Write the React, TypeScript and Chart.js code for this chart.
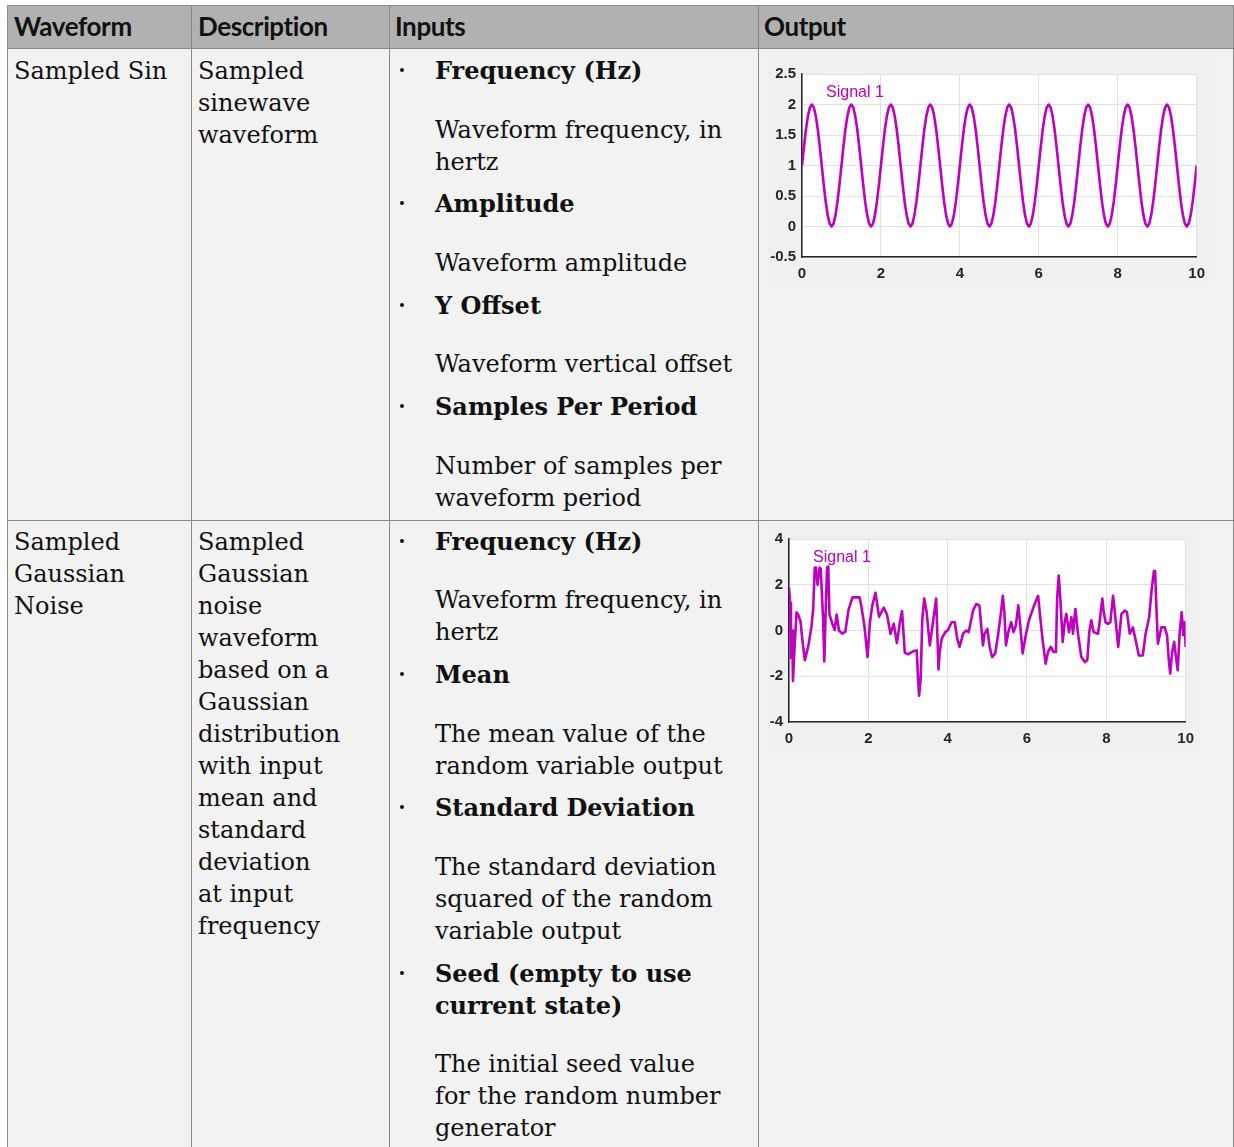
import React, { useEffect, useRef } from "react";
import { Chart, registerables } from "chart.js";

Chart.register(...registerables);

// ---------- chart data ----------
const SINE_SAMPLE_TIME = 0.05; // seconds between samples (20 samples per period)
const sineValues = [
  1, 1.31, 1.59, 1.81, 1.95, 2, 1.95, 1.81, 1.59, 1.31, 1, 0.69, 0.41, 0.19, 0.05, 0, 0.05, 0.19, 0.41, 0.69,
  1, 1.31, 1.59, 1.81, 1.95, 2, 1.95, 1.81, 1.59, 1.31, 1, 0.69, 0.41, 0.19, 0.05, 0, 0.05, 0.19, 0.41, 0.69,
  1, 1.31, 1.59, 1.81, 1.95, 2, 1.95, 1.81, 1.59, 1.31, 1, 0.69, 0.41, 0.19, 0.05, 0, 0.05, 0.19, 0.41, 0.69,
  1, 1.31, 1.59, 1.81, 1.95, 2, 1.95, 1.81, 1.59, 1.31, 1, 0.69, 0.41, 0.19, 0.05, 0, 0.05, 0.19, 0.41, 0.69,
  1, 1.31, 1.59, 1.81, 1.95, 2, 1.95, 1.81, 1.59, 1.31, 1, 0.69, 0.41, 0.19, 0.05, 0, 0.05, 0.19, 0.41, 0.69,
  1, 1.31, 1.59, 1.81, 1.95, 2, 1.95, 1.81, 1.59, 1.31, 1, 0.69, 0.41, 0.19, 0.05, 0, 0.05, 0.19, 0.41, 0.69,
  1, 1.31, 1.59, 1.81, 1.95, 2, 1.95, 1.81, 1.59, 1.31, 1, 0.69, 0.41, 0.19, 0.05, 0, 0.05, 0.19, 0.41, 0.69,
  1, 1.31, 1.59, 1.81, 1.95, 2, 1.95, 1.81, 1.59, 1.31, 1, 0.69, 0.41, 0.19, 0.05, 0, 0.05, 0.19, 0.41, 0.69,
  1, 1.31, 1.59, 1.81, 1.95, 2, 1.95, 1.81, 1.59, 1.31, 1, 0.69, 0.41, 0.19, 0.05, 0, 0.05, 0.19, 0.41, 0.69,
  1, 1.31, 1.59, 1.81, 1.95, 2, 1.95, 1.81, 1.59, 1.31, 1, 0.69, 0.41, 0.19, 0.05, 0, 0.05, 0.19, 0.41, 0.69,
  1,
];

const noiseTimes = [
  0, 0.03, 0.05, 0.08, 0.1, 0.13, 0.19, 0.23, 0.29, 0.34, 0.4, 0.49, 0.57, 0.61, 0.65, 0.68, 0.72, 0.77, 0.8,
  0.86, 0.89, 0.93, 0.96, 0.99, 1.02, 1.1, 1.15, 1.2, 1.26, 1.34, 1.42, 1.5, 1.6, 1.78, 1.82, 1.9, 1.98,
  2.04, 2.1, 2.18, 2.27, 2.39, 2.47, 2.56, 2.64, 2.72, 2.8, 2.85, 2.92, 3.0, 3.14, 3.22, 3.26, 3.28, 3.32,
  3.36, 3.41, 3.47, 3.55, 3.64, 3.71, 3.77, 3.8, 3.85, 3.94, 4.0, 4.1, 4.18, 4.24, 4.3, 4.39, 4.47, 4.53,
  4.64, 4.72, 4.8, 4.89, 4.93, 5.0, 5.06, 5.12, 5.2, 5.27, 5.35, 5.39, 5.43, 5.47, 5.53, 5.6, 5.66, 5.72,
  5.78, 5.83, 5.89, 5.97, 6.05, 6.18, 6.28, 6.33, 6.39, 6.47, 6.53, 6.6, 6.67, 6.73, 6.76, 6.8, 6.84, 6.9,
  6.95, 6.99, 7.06, 7.12, 7.16, 7.22, 7.29, 7.37, 7.46, 7.52, 7.57, 7.62, 7.68, 7.79, 7.83, 7.9, 7.93, 7.98,
  8.04, 8.1, 8.17, 8.21, 8.3, 8.38, 8.46, 8.52, 8.59, 8.67, 8.74, 8.82, 8.92, 8.99, 9.08, 9.14, 9.2, 9.23,
  9.26, 9.3, 9.39, 9.47, 9.53, 9.58, 9.61, 9.66, 9.71, 9.75, 9.8, 9.85, 9.9, 9.94, 9.97, 10.0,
];
const noiseValues = [
  1.88, 1.2, -1.2, 0.0, -2.2, -1.1, 0.8, 0.7, 0.4, -0.46, -1.3, -0.65, 0.22, 0.94, 2.75, 2.75, 2.0, 2.75, 2.7,
  0.5, -1.35, 1.2, 2.75, 2.8, 0.7, 0.26, 0.03, 0.7, 0.0, -0.14, -0.05, 0.9, 1.45, 1.45, 1.1, 0.22, -1.16,
  0.35, 1.1, 1.65, 0.6, 1.0, 0.7, -0.15, 0.3, -0.55, 0.4, 0.85, -0.97, -1.04, -0.9, -0.87, -2.3, -2.85, -2.1,
  0.5, 1.4, 0.8, -0.65, 0.5, 1.4, -1.7, -0.93, -0.36, -0.07, 0.0, 0.36, 0.36, -0.36, -0.72, -0.14, 0.0, -0.07,
  0.87, 1.16, 1.1, -0.65, -0.14, 0.07, -0.72, -1.16, -1.0, -0.2, 0.87, 1.52, 0.8, -0.65, -0.07, 0.36, -0.07, 0.22,
  1.1, 0.22, -1.0, -0.2, 0.45, 1.1, 1.52, 0.65, -0.36, -1.45, -0.94, -0.72, -0.94, -0.94, 1.4, 2.4, 1.4, -0.5,
  0.36, 0.72, -0.07, 0.58, -0.14, 0.94, -0.2, -1.16, -1.38, -1.3, -0.07, 0.45, -0.07, -0.14, 0.36, 1.4, 0.87, 0.36,
  0.29, 0.36, 1.52, 0.87, -0.72, 0.72, 0.87, 0.8, -0.14, 0.14, -0.43, -1.09, -1.09, -0.14, 0.58, 1.74, 2.6, 2.6,
  1.1, -0.58, 0.14, 0.14, -0.2, -1.38, -1.88, -0.94, -0.5, -1.09, -1.74, -0.07, 0.8, -0.2, 0.36, -0.72,
];

const xTicks = [0, 2, 4, 6, 8, 10];
const sineYTicks = [-0.5, 0, 0.5, 1, 1.5, 2, 2.5];
const noiseYTicks = [-4, -2, 0, 2, 4];
const SERIES_LABEL = "Signal 1";

// ---------- table text ----------
const headers = ["Waveform", "Description", "Inputs", "Output"];
type Ln = [string, number, boolean?, boolean?]; // text, center y, bold, bullet

const row1Col1: Ln[] = [["Sampled Sin", 70]];
const row1Col2: Ln[] = [["Sampled", 70], ["sinewave", 102], ["waveform", 134]];
const row1Col3: Ln[] = [
  ["Frequency (Hz)", 70, true, true],
  ["Waveform frequency, in", 129],
  ["hertz", 161],
  ["Amplitude", 203, true, true],
  ["Waveform amplitude", 262],
  ["Y Offset", 305, true, true],
  ["Waveform vertical offset", 363],
  ["Samples Per Period", 406, true, true],
  ["Number of samples per", 465],
  ["waveform period", 497],
];
const row2Col1: Ln[] = [["Sampled", 541], ["Gaussian", 573], ["Noise", 605]];
const row2Col2: Ln[] = [
  ["Sampled", 541], ["Gaussian", 573], ["noise", 605], ["waveform", 637], ["based on a", 669],
  ["Gaussian", 701], ["distribution", 733], ["with input", 765], ["mean and", 797], ["standard", 829],
  ["deviation", 861], ["at input", 893], ["frequency", 925],
];
const row2Col3: Ln[] = [
  ["Frequency (Hz)", 541, true, true],
  ["Waveform frequency, in", 599],
  ["hertz", 631],
  ["Mean", 674, true, true],
  ["The mean value of the", 733],
  ["random variable output", 765],
  ["Standard Deviation", 807, true, true],
  ["The standard deviation", 866],
  ["squared of the random", 898],
  ["variable output", 930],
  ["Seed (empty to use", 973, true, true],
  ["current state)", 1005, true],
  ["The initial seed value", 1063],
  ["for the random number", 1095],
  ["generator", 1127],
];

const LINE_COLOR = "#bf00bf";
const TICK_FONT = { family: "'Liberation Sans', Arial, sans-serif", size: 15, weight: "bold" as const };

const plotBg = {
  id: "plotBg",
  beforeDraw(chart: any) {
    const { ctx, chartArea: a } = chart;
    ctx.save();
    ctx.fillStyle = "#ffffff";
    ctx.fillRect(a.left, a.top, a.right - a.left, a.bottom - a.top);
    ctx.restore();
  },
};

const seriesLabel = {
  id: "seriesLabel",
  afterDatasetsDraw(chart: any) {
    const { ctx, chartArea: a } = chart;
    ctx.save();
    ctx.font = "16px 'Liberation Sans', Arial, sans-serif";
    ctx.fillStyle = LINE_COLOR;
    ctx.textBaseline = "middle";
    ctx.fillText(chart.data.datasets[0].label, a.left + 24, a.top + 19);
    ctx.restore();
  },
};

type ChartProps = {
  left: number; top: number; width: number; height: number;
  points: { x: number; y: number }[];
  yTicks: number[];
  yAxisWidth: number; xAxisHeight: number; padTop: number; padRight: number;
};

function WaveChart(p: ChartProps) {
  const ref = useRef<HTMLCanvasElement | null>(null);
  useEffect(() => {
    if (!ref.current) return;
    const chart = new Chart(ref.current, {
      type: "line",
      data: {
        datasets: [
          {
            label: SERIES_LABEL,
            data: p.points,
            borderColor: LINE_COLOR,
            borderWidth: 2.6,
            borderJoinStyle: "round",
            pointRadius: 0,
            tension: 0,
            fill: false,
          },
        ],
      },
      options: {
        animation: false,
        responsive: false,
        devicePixelRatio: 1,
        layout: { padding: { top: p.padTop, right: p.padRight, left: 0, bottom: 0 } },
        plugins: { legend: { display: false }, tooltip: { enabled: false } },
        scales: {
          x: {
            type: "linear",
            min: xTicks[0],
            max: xTicks[xTicks.length - 1],
            afterBuildTicks: (s: any) => { s.ticks = xTicks.map((v) => ({ value: v })); },
            afterFit: (s: any) => { s.height = p.xAxisHeight; },
            grid: { color: "#e1e1e1", lineWidth: 1, drawTicks: false },
            border: { color: "#262626", width: 1.5 },
            ticks: { font: TICK_FONT, color: "#262626", padding: 8, maxRotation: 0, callback: (v: any) => String(v) },
          },
          y: {
            type: "linear",
            min: p.yTicks[0],
            max: p.yTicks[p.yTicks.length - 1],
            afterBuildTicks: (s: any) => { s.ticks = p.yTicks.map((v) => ({ value: v })); },
            afterFit: (s: any) => { s.width = p.yAxisWidth; },
            grid: { color: "#e1e1e1", lineWidth: 1, drawTicks: false },
            border: { color: "#262626", width: 1.5 },
            ticks: { font: TICK_FONT, color: "#262626", padding: 6, callback: (v: any) => String(v) },
          },
        },
      },
      plugins: [plotBg, seriesLabel],
    } as any);
    return () => chart.destroy();
  }, []);
  return (
    <canvas
      ref={ref}
      width={p.width}
      height={p.height}
      style={{ position: "absolute", left: p.left, top: p.top, width: p.width, height: p.height, background: "#f0f0f0" }}
    />
  );
}

const SERIF = "'DejaVu Serif', serif";
const SANS_HEAD = "Lato, 'Open Sans', sans-serif";

function TextCol({ x, lines }: { x: number; lines: Ln[] }) {
  return (
    <>
      {lines.map(([t, cy, bold, bullet], i) => (
        <React.Fragment key={i}>
          {bullet && (
            <div
              style={{
                position: "absolute", left: 400, top: cy - 2, width: 4, height: 4,
                borderRadius: 2, background: "#111",
              }}
            />
          )}
          <div
            style={{
              position: "absolute", left: x, top: cy - 15, height: 32, lineHeight: "32px",
              fontFamily: SERIF, fontSize: 24, fontWeight: bold ? 700 : 400,
              color: "#111", whiteSpace: "nowrap",
            }}
          >
            {t}
          </div>
        </React.Fragment>
      ))}
    </>
  );
}

export default function App() {
  const sinePoints = sineValues.map((v, i) => ({ x: i * SINE_SAMPLE_TIME, y: v }));
  const noisePoints = noiseValues.map((v, i) => ({ x: noiseTimes[i], y: v }));
  const border = "#8a8a8a";
  const vLines = [7, 191, 389, 758, 1233];
  const headX = [14, 198, 395, 764];
  return (
    <div style={{ position: "absolute", left: 0, top: 0, width: 1234, height: 1147, overflow: "hidden", background: "#fff" }}>
      <div style={{ position: "absolute", left: 7, top: 5, width: 1227, height: 1142, background: "#f2f2f2" }} />
      <div style={{ position: "absolute", left: 7, top: 5, width: 1227, height: 43, background: "#b1b1b1" }} />
      {[5, 48, 520].map((y) => (
        <div key={y} style={{ position: "absolute", left: 7, top: y, width: 1227, height: 1, background: border }} />
      ))}
      {vLines.map((x) => (
        <div key={x} style={{ position: "absolute", left: x, top: 5, width: 1, height: 1142, background: border }} />
      ))}
      {headers.map((h, i) => (
        <div
          key={h}
          style={{
            position: "absolute", left: headX[i], top: 10, height: 32, lineHeight: "32px",
            fontFamily: SANS_HEAD, fontWeight: 700, fontSize: 26, color: "#111",
            whiteSpace: "nowrap", letterSpacing: -0.4,
          }}
        >
          {h}
        </div>
      ))}
      <TextCol x={14} lines={row1Col1} />
      <TextCol x={198} lines={row1Col2} />
      <TextCol x={435} lines={row1Col3} />
      <TextCol x={14} lines={row2Col1} />
      <TextCol x={198} lines={row2Col2} />
      <TextCol x={435} lines={row2Col3} />
      <WaveChart
        left={767} top={59} width={446} height={225}
        points={sinePoints} yTicks={sineYTicks}
        yAxisWidth={35} xAxisHeight={27} padTop={8} padRight={14}
      />
      <WaveChart
        left={768} top={524} width={434} height={228}
        points={noisePoints} yTicks={noiseYTicks}
        yAxisWidth={21} xAxisHeight={30} padTop={7} padRight={16}
      />
    </div>
  );
}
